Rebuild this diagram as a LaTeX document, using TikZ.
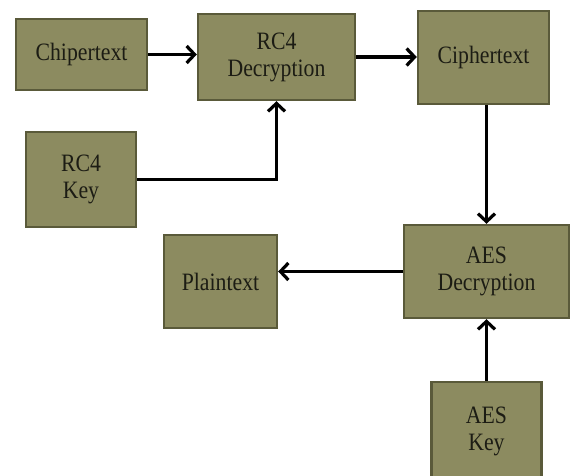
\documentclass[tikz,border=0pt]{standalone}
\usepackage{fontspec}
\setmainfont[FakeStretch=0.87]{Liberation Serif}
\usepackage{xcolor}
\definecolor{Khaki}{HTML}{8C8B60}
\definecolor{DarkKhaki}{HTML}{5A5A3A}
\definecolor{Ink}{HTML}{1C1C14}
\usepackage{tikz}
\usetikzlibrary{calc,arrows.meta}

\begin{document}
\begin{tikzpicture}[x=1pt,y=-1pt,
 blk/.style={rectangle,draw=DarkKhaki,fill=Khaki,line width=2.4pt,text=Ink,
   align=center,inner sep=0pt,font=\fontsize{25}{27}\selectfont},
 arr/.style={line width=3.2pt,-{Straight Barb[length=8pt,width=17pt,line width=3.2pt]}}]
\useasboundingbox (0,0) rectangle (571,476);
\node[blk,minimum width=131pt,minimum height=71pt] (chip) at (81.5,54.5) {Chipertext};
\node[blk,minimum width=157pt,minimum height=86pt] (rcdec) at (276.5,57) {RC4\\Decryption};
\node[blk,minimum width=131pt,minimum height=93pt] (ciph) at (483.5,57.5) {Ciphertext};
\node[blk,minimum width=110pt,minimum height=95pt] (rckey) at (81,179.5) {RC4\\Key};
\node[blk,minimum width=113pt,minimum height=93pt] (plain) at (220.5,281.5) {Plaintext};
\node[blk,minimum width=165pt,minimum height=93pt] (aesdec) at (486.5,271.5) {AES\\Decryption};
\node[blk,minimum width=110pt,minimum height=98pt] (aeskey) at (486.5,431) {AES\\Key};
% RC4 stage
\draw[arr] (chip.east) -- (chip.east -| rcdec.west);
\draw[arr] (rcdec.east) -- (rcdec.east -| ciph.west);
\draw[arr] (rckey.east) -| (rcdec.south);
% AES stage
\draw[arr] (aesdec.north |- ciph.south) -- (aesdec.north);
\draw[arr] (aesdec.west) -- (aesdec.west -| plain.east);
\draw[arr] (aeskey.north) -- (aesdec.south);
\end{tikzpicture}
\end{document}
